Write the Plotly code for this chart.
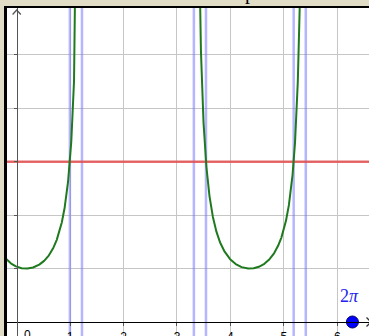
import numpy as np
import plotly.graph_objects as go

W, H = 369, 336

# Graph of y = sec(FREQ * x - PHASE) with the level line y = LEVEL
FREQ = 1.5
PHASE = np.pi / 12
LEVEL = 3.0
POINT_X = 2 * np.pi
POINT_LABEL = "2<i>π</i>"

X_TICKS = [1, 2, 3, 4, 5, 6]
X_TICK_TEXT = ["1", "2", "3", "4", "5", "6"]
Y_TICKS = [1, 2, 3, 4, 5]
Y_TICK_TEXT = ["1", "2", "3", "4", "5"]

# screen geometry: pixels per unit and origin position on the page
UNIT = 53.43
ORIGIN_X_PX, ORIGIN_Y_PX = 16.7, 322.0

x_range = [-ORIGIN_X_PX / UNIT, (W - ORIGIN_X_PX) / UNIT]
y_range = [-(H - ORIGIN_Y_PX) / UNIT, ORIGIN_Y_PX / UNIT]

BEIGE = "#e0dcc6"
GRID = "#c6c6c6"


def px(x):
    return x / W


def py(y):
    return 1 - y / H


# curve samples (positive branches of the secant)
xs = np.linspace(x_range[0], x_range[1], 5000)
c = np.cos(FREQ * xs - PHASE)
ys = [float(1 / v) if v > 0.02 else None for v in c]

# vertical guides: asymptotes and the solutions of sec(...) = LEVEL
guides = []
for k in range(-2, 4):
    guides.append((PHASE + np.pi / 2 + k * np.pi) / FREQ)
    for s in (1, -1):
        guides.append((PHASE + s * np.arccos(1 / LEVEL) + 2 * k * np.pi) / FREQ)
guides = sorted(g for g in guides if x_range[0] < g < x_range[1])
# keep only guides that bound the positive branches
guides = [g for g in guides if np.cos(FREQ * g - PHASE) > -1e-6]

gx, gy = [], []
for g in guides:
    gx += [g, g, None]
    gy += [y_range[0], y_range[1], None]

fig = go.Figure()
fig.add_trace(go.Scatter(x=gx, y=gy, mode="lines",
                         line=dict(color="rgba(110,110,255,0.5)", width=2.5),
                         hoverinfo="skip"))
fig.add_trace(go.Scatter(x=list(x_range), y=[LEVEL, LEVEL], mode="lines",
                         line=dict(color="rgba(228,80,80,0.85)", width=2.5),
                         hoverinfo="skip"))
fig.add_trace(go.Scatter(x=xs, y=ys, mode="lines",
                         line=dict(color="#1f7a1f", width=2),
                         connectgaps=False, hoverinfo="skip"))
fig.add_trace(go.Scatter(x=[POINT_X], y=[0], mode="markers",
                         marker=dict(size=12, color="#0000ff",
                                     line=dict(color="#00006a", width=1)),
                         hoverinfo="skip"))

tick_font = dict(family="Liberation Sans", size=12, color="black")

fig.update_layout(
    width=W, height=H,
    margin=dict(l=0, r=0, t=0, b=0, autoexpand=False),
    paper_bgcolor=BEIGE, plot_bgcolor="white",
    showlegend=False,
    xaxis=dict(range=x_range, domain=[0, 1], anchor="free",
               position=1 - ORIGIN_Y_PX / H, automargin=False,
               tickvals=X_TICKS, ticktext=X_TICK_TEXT,
               showgrid=True, gridcolor=GRID, gridwidth=1, zeroline=False,
               showline=True, linecolor="black", linewidth=1.3,
               ticks="outside", ticklen=3, tickcolor="#555", tickwidth=1,
               tickfont=tick_font, fixedrange=True),
    yaxis=dict(range=y_range, domain=[0, 1], anchor="free",
               position=ORIGIN_X_PX / W, automargin=False,
               tickvals=Y_TICKS, ticktext=Y_TICK_TEXT,
               showgrid=True, gridcolor=GRID, gridwidth=1, zeroline=False,
               showline=True, linecolor="#555", linewidth=1.3,
               ticks="outside", ticklen=3, tickcolor="#555", tickwidth=1,
               ticklabelstandoff=5,
               tickfont=tick_font, fixedrange=True),
    # origin label on the vertical axis, set slightly above the x-axis
    yaxis2=dict(range=[y_range[0] - 9 / UNIT, y_range[1] - 9 / UNIT],
                overlaying="y", anchor="free", position=ORIGIN_X_PX / W,
                automargin=False,
                tickvals=[0], ticktext=["0"], showgrid=False, zeroline=False,
                showline=False, ticks="outside", ticklen=3,
                tickcolor="rgba(0,0,0,0)", ticklabelstandoff=5,
                tickfont=tick_font, fixedrange=True),
)

shapes = [
    # window frame
    dict(type="rect", xref="paper", yref="paper", x0=0, x1=px(4), y0=0, y1=1,
         fillcolor=BEIGE, line_width=0, layer="above"),
    dict(type="rect", xref="paper", yref="paper", x0=0, x1=1, y0=py(6), y1=1,
         fillcolor=BEIGE, line_width=0, layer="above"),
    dict(type="rect", xref="paper", yref="paper", x0=px(4), x1=px(7),
         y0=0, y1=py(6), fillcolor="black", line_width=0, layer="above"),
    dict(type="rect", xref="paper", yref="paper", x0=px(4), x1=1,
         y0=py(8), y1=py(6), fillcolor="black", line_width=0, layer="above"),
    # axis arrow heads
    dict(type="path", xref="paper", yref="paper",
         path=f"M {px(12.6)},{py(14.5)} L {px(16.7)},{py(10)} L {px(20.8)},{py(14.5)}",
         line=dict(color="#555", width=1.3), layer="above"),
    dict(type="path", xref="paper", yref="paper",
         path=f"M {px(366.5)},{py(317.5)} L {px(371)},{py(322)} L {px(366.5)},{py(326.5)}",
         line=dict(color="#333", width=1.3), layer="above"),
]
fig.update_layout(shapes=shapes)

fig.add_annotation(x=px(27), y=py(322), xref="paper", yref="paper",
                   text="0", showarrow=False, xanchor="center", yanchor="top",
                   yshift=-4, font=tick_font)
fig.add_annotation(x=POINT_X, y=0, xref="x", yref="y", text=POINT_LABEL,
                   showarrow=False, xanchor="center", yanchor="middle",
                   xshift=-3, yshift=26,
                   font=dict(family="Liberation Serif", size=18, color="#2222ee"))
# lower part of the window title
fig.add_annotation(x=px(243), y=py(6), xref="paper", yref="paper", text="p",
                   showarrow=False, xanchor="left", yanchor="bottom",
                   font=dict(family="Liberation Serif", size=20, color="black"))

fig.write_html("out.html")
